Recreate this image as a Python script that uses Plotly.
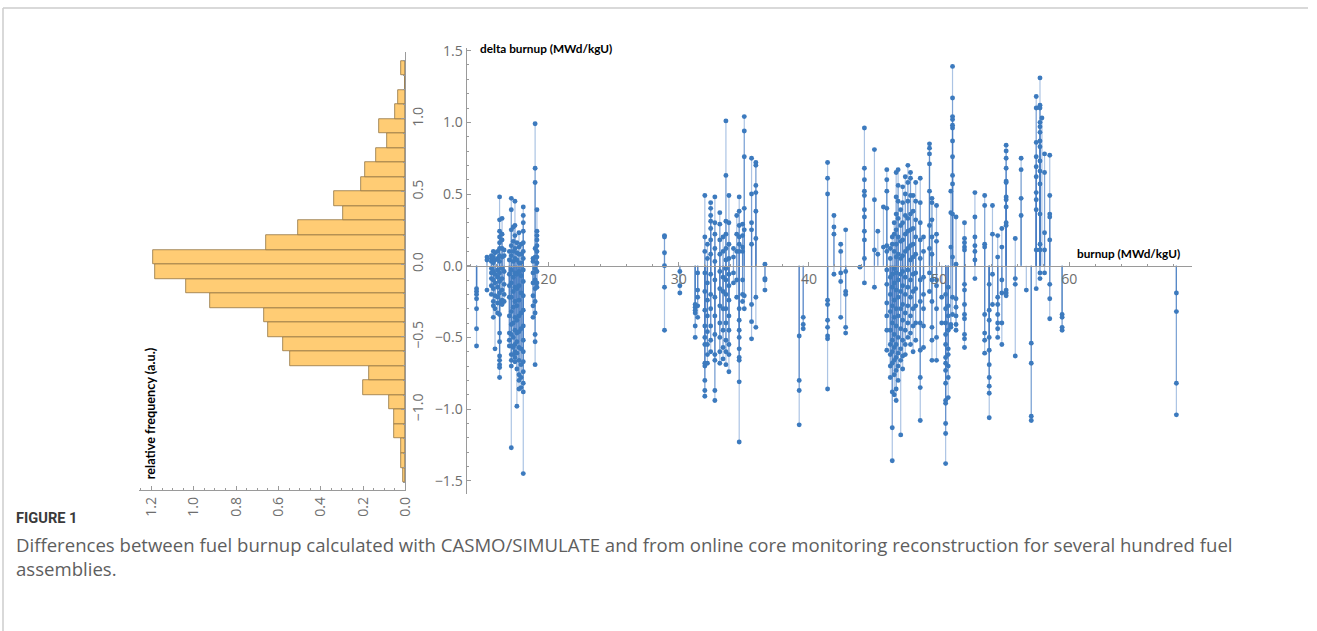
import plotly.graph_objects as go

W, H = 1317, 631
# measured mapping of the rendering pipeline: shown = S * figure_px + offset
SX, OX = 0.992, 1.0
SY, OY = 0.985, 8.0

# ---------------- histogram (left, rotated) ----------------
bin_centers = [-1.45, -1.35, -1.25, -1.15, -1.05, -0.95, -0.85, -0.75, -0.65, -0.55,
               -0.45, -0.35, -0.25, -0.15, -0.05, 0.05, 0.15, 0.25, 0.35, 0.45,
               0.55, 0.65, 0.75, 0.85, 0.95, 1.05, 1.15, 1.25, 1.35]
rel_freq = [0.013, 0.020, 0.020, 0.052, 0.052, 0.079, 0.199, 0.173, 0.545, 0.577,
            0.648, 0.667, 0.924, 1.037, 1.182, 1.191, 0.657, 0.509, 0.293, 0.339,
            0.210, 0.192, 0.139, 0.088, 0.123, 0.047, 0.036, 0.0, 0.019]
freq_ticks = [0.0, 0.2, 0.4, 0.6, 0.8, 1.0, 1.2]
bin_ticks = [-1.0, -0.5, 0.0, 0.5, 1.0]

# ---------------- stem plot (right): (burnup, [delta burnup values]) ----------------
stems_a = [
    (14.46, [-0.16, -0.18, -0.20, -0.23, -0.30, -0.44, -0.56]),
    (15.26, [0.06, 0.04, -0.17]),
    (15.6, [0.07, 0.05, 0.03, -0.02, -0.05, -0.09, -0.14, -0.20]),
    (15.75, [0.10, 0.06, 0.02, -0.04, -0.10, -0.16, -0.25, -0.28, -0.36]),
    (15.88, [0.09, 0.04, -0.06, -0.12, -0.21, -0.30, -0.58]),
    (16.08, [0.10, 0.05, -0.03, -0.08, -0.15, -0.22, -0.26, -0.33]),
    (16.23, [0.48, 0.32, 0.24, 0.20, 0.16, 0.12, 0.07, 0.03, -0.05, -0.11, -0.19, -0.26,
             -0.34, -0.47, -0.53, -0.63, -0.66, -0.69, -0.71, -0.78]),
    (16.42, [0.33, 0.22, 0.18, 0.12, 0.06, -0.02, -0.09, -0.17, -0.24, -0.27]),
    (16.58, [0.11, 0.07, -0.04, -0.13, -0.20, -0.25]),
    (16.98, [0.10, 0.04, -0.06, -0.14, -0.22, -0.35, -0.47, -0.52, -0.56]),
    (17.13, [0.47, 0.39, 0.25, 0.14, 0.07, -0.03, -0.12, -0.22, -0.32, -0.41, -0.48,
             -0.56, -0.62, -0.66, -0.70, -1.27]),
    (17.28, [0.27, 0.17, 0.10, 0.03, -0.08, -0.18, -0.29, -0.40, -0.50, -0.57, -0.62]),
    (17.41, [0.45, 0.28, 0.21, 0.12, 0.05, -0.05, -0.15, -0.25, -0.36, -0.45, -0.55,
             -0.60, -0.64, -0.67]),
    (17.56, [0.16, 0.09, 0.04, -0.06, -0.16, -0.28, -0.38, -0.47, -0.53, -0.61, -0.72, -0.98]),
    (17.72, [0.23, 0.13, 0.08, 0.02, -0.04, -0.14, -0.24, -0.35, -0.46, -0.57, -0.66,
             -0.76, -0.80, -0.86]),
    (17.88, [0.15, 0.08, 0.02, -0.07, -0.19, -0.33, -0.44, -0.58, -0.69, -0.78, -0.85]),
    (18.05, [0.41, 0.35, 0.30, 0.24, 0.16, 0.10, 0.05, -0.03, -0.11, -0.21, -0.31, -0.42,
             -0.52, -0.60, -0.67, -0.74, -0.82, -0.88, -1.45]),
    (18.8, [0.05, 0.03, -0.05, -0.12, -0.21, -0.28, -0.36]),
    (18.96, [0.99, 0.68, 0.58, 0.12, 0.06, -0.02, -0.10, -0.16, -0.25, -0.33, -0.48,
             -0.53, -0.69]),
    (19.1, [0.39, 0.24, 0.21, 0.18, 0.14, 0.10, 0.06, 0.02, -0.04, -0.12, -0.15]),
]

stems_b = [
    (28.9, [0.21, 0.20, 0.09, 0.0, -0.15, -0.45]),
    (30.08, [-0.04, -0.14, -0.19]),
    (31.26, [-0.27, -0.29, -0.31, -0.33, -0.42, -0.50]),
    (31.45, [-0.05, -0.17, -0.22, -0.28, -0.36]),
    (32.0, [0.49, 0.20, 0.10, -0.05, -0.18, -0.31, -0.42, -0.50, -0.55, -0.68, -0.70,
            -0.80, -0.87, -0.91]),
    (32.2, [0.15, 0.05, -0.12, -0.24, -0.35, -0.46, -0.55, -0.62, -0.68]),
    (32.45, [0.44, 0.40, 0.35, 0.31, 0.26, 0.18, 0.08, -0.06, -0.20, -0.30, -0.42, -0.52, -0.60]),
    (32.77, [0.48, 0.30, 0.22, 0.12, 0.03, -0.10, -0.22, -0.35, -0.48, -0.62, -0.66,
             -0.87, -0.94]),
    (33.15, [0.37, 0.29, 0.18, 0.08, -0.04, -0.16, -0.28, -0.40, -0.50, -0.60, -0.68]),
    (33.4, [0.20, 0.10, -0.08, -0.18, -0.30, -0.45, -0.57, -0.65]),
    (33.62, [1.01, 0.63, 0.31, 0.22, 0.12, 0.04, -0.02, -0.10, -0.20, -0.30, -0.40,
             -0.52, -0.60, -0.69]),
    (33.85, [0.49, 0.30, 0.15, 0.05, -0.06, -0.14, -0.24, -0.35, -0.45, -0.55, -0.62, -0.74]),
    (34.2, [0.12, 0.06, -0.05, -0.12]),
    (34.45, [0.35, 0.22, 0.10, -0.10, -0.22]),
    (34.64, [0.48, 0.38, 0.28, 0.20, 0.15, 0.10, -0.30, -0.38, -0.45, -0.50, -0.58,
             -0.64, -0.66, -0.81, -1.23]),
    (34.9, [0.29, 0.21, 0.13, 0.10, -0.10, -0.20, -0.25]),
    (35.03, [1.04, 0.94, 0.76, 0.40, 0.25, -0.21, -0.30]),
    (35.59, [0.75, 0.50, 0.30, 0.25, 0.15, -0.27, -0.39, -0.51]),
    (35.92, [0.72, 0.70, 0.56, 0.51, 0.38, 0.19, -0.22, -0.43]),
    (36.62, [0.01, -0.09, -0.10, -0.17]),
]

stems_c = [
    (39.25, [-0.49, -0.80, -0.87, -1.11]),
    (39.56, [-0.36, -0.41, -0.44]),
    (41.43, [0.72, 0.61, 0.50, -0.24, -0.27, -0.38, -0.43, -0.49, -0.51, -0.86]),
    (41.92, [0.35, 0.27, 0.22, -0.06]),
    (42.44, [0.15, 0.10, -0.05, -0.11, -0.36]),
    (42.82, [0.25, -0.04, -0.18, -0.20, -0.43, -0.47]),
]

stems_d = [
    (43.92, [-0.01]),
    (44.26, [0.96, 0.68, 0.60, 0.52, 0.49, 0.39, 0.34, 0.24, 0.18, 0.05, -0.12]),
    (45.03, [0.81, 0.46, 0.11, -0.15]),
    (45.29, [0.24, 0.08]),
    (45.72, [0.41, 0.13]),
    (45.98, [0.67, 0.60, 0.52, 0.40, 0.14, 0.10, -0.03, -0.13, -0.26, -0.35, -0.45, -0.59]),
    (46.25, [0.12, 0.05, -0.08, -0.20, -0.32, -0.45, -0.55, -0.62, -0.70, -0.78]),
    (46.4, [0.20, 0.15, -0.06, -0.15, -0.28, -0.40, -0.52, -0.60, -0.68, -0.88, -1.13, -1.36]),
    (46.55, [0.30, 0.22, 0.10, -0.02, -0.12, -0.24, -0.36, -0.48, -0.57, -0.66, -0.76, -0.90]),
    (46.7, [0.65, 0.48, 0.36, 0.25, 0.15, 0.06, -0.05, -0.17, -0.30, -0.42, -0.55,
            -0.64, -0.73, -0.86, -0.94]),
    (46.85, [0.67, 0.56, 0.45, 0.33, 0.20, 0.08, -0.10, -0.22, -0.35, -0.50, -0.61, -0.70, -0.80]),
    (47.05, [0.39, 0.28, 0.17, 0.05, -0.06, -0.18, -0.30, -0.44, -0.58, -0.66, -1.18]),
    (47.2, [0.55, 0.44, 0.30, 0.18, 0.07, -0.04, -0.14, -0.27, -0.38, -0.52, -0.63, -0.72]),
    (47.4, [0.62, 0.50, 0.35, 0.22, 0.10, -0.08, -0.20, -0.33, -0.45, -0.55, -0.62]),
    (47.6, [0.70, 0.58, 0.45, 0.33, 0.24, 0.12, -0.03, -0.15, -0.28, -0.40, -0.50]),
    (47.8, [0.65, 0.61, 0.49, 0.36, 0.25, 0.14, 0.04, -0.10, -0.22, -0.35, -0.47, -0.55]),
    (48.0, [0.49, 0.38, 0.26, 0.15, 0.06, -0.06, -0.18, -0.30, -0.42, -0.60]),
    (48.2, [0.58, 0.45, 0.32, 0.20, 0.08, -0.05, -0.16, -0.28, -0.40, -0.52]),
    (48.55, [0.61, 0.44, 0.30, 0.18, 0.05, -0.10, -0.25, -0.40, -0.59, -0.78, -0.85, -1.08]),
    (48.8, [0.20, 0.10, -0.08, -0.20, -0.30, -0.42, -0.57]),
    (49.26, [0.85, 0.82, 0.78, 0.71, 0.52, 0.28, 0.12, -0.05, -0.18]),
    (49.45, [0.47, 0.44, 0.32, 0.20, 0.08, -0.10, -0.25, -0.43, -0.52, -0.66]),
    (49.8, [0.42, 0.22, 0.17, -0.10, -0.14, -0.30, -0.50, -0.66]),
]

stems_e = [
    (50.2, [-0.22, -0.40]),
    (50.5, [-0.20, -0.30, -0.40, -0.48, -0.55, -0.64, -0.68, -0.73, -0.82, -0.94,
            -0.96, -1.10, -1.17, -1.38]),
    (50.7, [-0.15, -0.28, -0.35, -0.45, -0.58, -0.62, -0.70, -0.78, -0.92]),
    (50.9, [0.52, 0.37, 0.13, -0.41, -0.43]),
    (51.03, [1.39, 1.17, 1.04, 1.02, 0.98, 0.96, 0.87, 0.76, 0.63, 0.57, 0.36, 0.06,
             -0.22, -0.34]),
    (51.3, [0.34, 0.01, -0.23, -0.29, -0.35, -0.41, -0.45]),
    (51.95, [0.30, 0.19, 0.16, 0.13, 0.11, -0.13, -0.17, -0.27, -0.34, -0.37, -0.48,
             -0.51, -0.57]),
    (52.75, [0.51, 0.34, 0.20, 0.14, 0.10, 0.04, -0.09]),
    (53.5, [0.49, 0.42, 0.15, 0.13, -0.34, -0.47, -0.52, -0.61]),
    (53.85, [-0.13, -0.31, -0.38, -0.50, -0.59, -0.69, -0.78, -0.84, -0.89, -1.06]),
    (54.1, [0.42, 0.22, -0.06, -0.27]),
    (54.5, [0.21, 0.06, -0.22, -0.27, -0.34, -0.40, -0.44, -0.50]),
    (54.82, [0.26, 0.13, -0.10, -0.19, -0.40, -0.55]),
    (55.15, [0.84, 0.80, 0.75, 0.68, 0.59, 0.58, 0.48, 0.46, 0.41, 0.30, 0.28,
             -0.17, -0.19, -0.21]),
    (55.85, [0.19, -0.09, -0.13, -0.63]),
    (56.3, [0.75, 0.67, 0.47, 0.35]),
    (56.7, [-0.17]),
    (57.08, [-0.54, -0.68, -1.05, -1.08]),
    (57.46, [1.18, 1.10, 0.86, 0.76, 0.69, 0.62, 0.51, 0.46, 0.39, 0.11, -0.16]),
    (57.75, [1.31, 1.12, 1.10, 1.00, 0.97, 0.93, 0.87, 0.83, 0.73, 0.66, 0.57, 0.36,
             0.15, 0.11, -0.05, -0.09]),
    (57.9, [1.03]),
    (58.1, [0.78, 0.65, 0.23, 0.11, -0.05]),
    (58.5, [0.77, 0.49, 0.36, 0.34, 0.18, -0.13, -0.23, -0.37]),
    (59.45, [-0.34, -0.36, -0.43, -0.45]),
    (68.23, [-0.19, -0.32, -0.82, -1.04]),
]

x_ticks = [20, 30, 40, 50, 60]
y_ticks = [-1.5, -1.0, -0.5, 0.0, 0.5, 1.0, 1.5]

caption_title = "FIGURE 1"
caption_text = ("Differences between fuel burnup calculated with CASMO/SIMULATE and from online core "
                "monitoring reconstruction for several hundred fuel<br>assemblies.")

# ---------------- build ----------------
burnup, delta = [], []
for group in (stems_a, stems_b, stems_c, stems_d, stems_e):
    for bx, ys in group:
        for y in ys:
            burnup.append(bx)
            delta.append(y)

line_x, line_y = [], []
for bx, y in zip(burnup, delta):
    line_x += [bx, bx, None]
    line_y += [0, y, None]


def px(p):
    """target picture x (pixels) -> paper fraction"""
    return ((p - OX) / SX) / W


def py(p):
    """target picture y (pixels) -> paper fraction"""
    return 1 - (p / SY - OY) / H


def fs(s):
    """target font size -> figure font size"""
    return round(s / SX, 2)


AX = "#9a9a9a"
TICKFONT = dict(family="Open Sans, Arial, sans-serif", size=fs(14), color="#6e6e6e")
BLUE = "rgb(60,122,190)"

fig = go.Figure()

fig.add_trace(go.Bar(
    y=bin_centers, x=rel_freq, orientation="h", width=0.1,
    marker=dict(color="#FFCC74", line=dict(color="rgba(140,110,60,0.75)", width=1)),
    xaxis="x", yaxis="y", hoverinfo="skip"))

fig.add_trace(go.Scatter(
    x=line_x, y=line_y, mode="lines", xaxis="x2", yaxis="y2",
    line=dict(color="rgba(70,125,195,0.45)", width=1.2), hoverinfo="skip"))

fig.add_trace(go.Scatter(
    x=burnup, y=delta, mode="markers", xaxis="x2", yaxis="y2",
    marker=dict(color=BLUE, size=4.9, line=dict(width=0))))

fig.update_layout(
    width=W, height=H, margin=dict(l=0, r=0, t=0, b=0),
    paper_bgcolor="white", plot_bgcolor="rgba(0,0,0,0)", showlegend=False,
    bargap=0,
    xaxis=dict(domain=[px(140), px(406)], range=[1.258, 0], anchor="y",
               showline=True, linecolor=AX, linewidth=1, showgrid=False, zeroline=False,
               ticks="inside", ticklen=4, tickcolor=AX, tickvals=freq_ticks,
               tickformat=".1f", tickangle=-90, tickfont=TICKFONT,
               minor=dict(ticks="inside", dtick=0.05, ticklen=2, tickcolor=AX)),
    yaxis=dict(domain=[py(489), py(52)], range=[-1.555, 1.459], anchor="x", side="right",
               showline=True, linecolor=AX, linewidth=1, showgrid=False, zeroline=False,
               ticks="inside", ticklen=4, tickcolor=AX, tickvals=bin_ticks,
               tickformat=".1f", tickangle=-90, tickfont=TICKFONT,
               minor=dict(ticks="inside", dtick=0.1, ticklen=2, tickcolor=AX)),
    xaxis2=dict(domain=[px(467), px(1192)], range=[13.692, 69.46], anchor="free",
                position=py(265), showline=True, linecolor=AX, linewidth=1,
                showgrid=False, zeroline=False, ticks="inside", ticklen=4, tickcolor=AX,
                tickvals=x_ticks, tickfont=TICKFONT,
                minor=dict(ticks="inside", dtick=2, ticklen=2, tickcolor=AX)),
    yaxis2=dict(domain=[py(493), py(48)], range=[-1.594, 1.517], anchor="x2",
                showline=True, linecolor=AX, linewidth=1, showgrid=False, zeroline=False,
                ticks="inside", ticklen=4, tickcolor=AX, tickvals=y_ticks,
                tickformat=".1f", tickfont=TICKFONT,
                minor=dict(ticks="inside", dtick=0.1, ticklen=2, tickcolor=AX)),
)

LABFONT = dict(family="Lato, Open Sans, sans-serif", size=fs(11.7), color="black")
fig.add_annotation(text="<b>delta burnup (MWd/kgU)</b>", xref="paper", yref="paper",
                   x=px(478), y=py(48), xanchor="left", yanchor="middle",
                   showarrow=False, font=LABFONT)
fig.add_annotation(text="<b>burnup (MWd/kgU)</b>", xref="paper", yref="paper",
                   x=px(1075), y=py(253), xanchor="left", yanchor="middle",
                   showarrow=False, font=LABFONT)
fig.add_annotation(text="<b>relative frequency (a.u.)</b>", xref="paper", yref="paper",
                   x=px(151), y=py(412), xanchor="center", yanchor="middle", textangle=-90,
                   showarrow=False, font=dict(family="Lato, sans-serif", size=fs(12.6), color="black"))

fig.add_annotation(text=caption_title, xref="paper", yref="paper",
                   x=px(15), y=py(517), xanchor="left", yanchor="middle", showarrow=False,
                   font=dict(family="Roboto, sans-serif", size=fs(14.5),
                             color="#3a3a3a", weight="bold"))
fig.add_annotation(text=caption_text, xref="paper", yref="paper",
                   x=px(15), y=py(555.5), xanchor="left", yanchor="middle", align="left",
                   showarrow=False,
                   font=dict(family="Open Sans, sans-serif", size=fs(18.43), color="#5e5e5e"))

# panel border (top and left edges)
fig.add_shape(type="line", xref="paper", yref="paper", x0=px(4), x1=1, y0=py(8), y1=py(8),
              line=dict(color="#cdcdcd", width=1.5))
fig.add_shape(type="line", xref="paper", yref="paper", x0=px(4), x1=px(4), y0=py(8), y1=0,
              line=dict(color="#cdcdcd", width=1.5))

fig.write_html("out.html")
